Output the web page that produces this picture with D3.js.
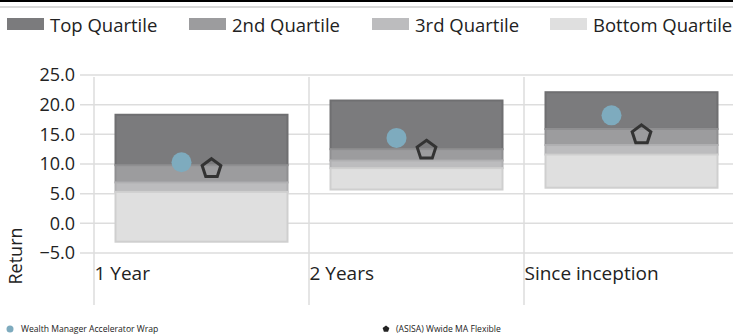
<!DOCTYPE html>
<html>
<head>
<meta charset="utf-8">
<script src="https://cdn.jsdelivr.net/npm/d3@7"></script>
<style>
  body { margin: 0; background: #fff; }
  text { font-family: "Open Sans", "Noto Sans", sans-serif; fill: #222; }
</style>
</head>
<body>
<div id="chart"></div>
<script>
// data
var categories = ["1 Year", "2 Years", "Since inception"];
var topMax    = [18.3, 20.7, 22.1];
var upperQ    = [9.8, 12.5, 15.9];
var medianQ   = [6.9, 10.6, 13.2];
var lowerQ    = [5.3, 9.3, 11.6];
var bottomMin = [-3.1, 5.7, 6.0];
var fundReturn   = [10.3, 14.4, 18.2];
var sectorReturn = [9.4, 12.5, 15.1];
var yTicks = [-5, 0, 5, 10, 15, 20, 25];
var quartileNames = ["Top Quartile", "2nd Quartile", "3rd Quartile", "Bottom Quartile"];
var fundName = "Wealth Manager Accelerator Wrap";
var sectorName = "(ASISA) Wwide MA Flexible";

var svgWidth = 733;
var svgHeight = 334;

var fills   = ["#7b7b7d", "#9c9c9e", "#bcbcbe", "#dfdfdf"];
var strokes = ["#6f6f71", "#8f8f91", "#b0b0b2", "#cfcfcf"];

var svg = d3.select("#chart").append("svg")
    .attr("width", svgWidth)
    .attr("height", svgHeight);

// top rules
svg.append("rect").attr("x", 0).attr("y", 0).attr("width", svgWidth).attr("height", 2).attr("fill", "#000");
svg.append("rect").attr("x", 0).attr("y", 6).attr("width", svgWidth).attr("height", 2).attr("fill", "#d9d9d9");

// legend
var legendX = [7, 189, 372, 550];
var legend = svg.append("g");
quartileNames.forEach(function(name, i) {
    legend.append("rect")
        .attr("x", legendX[i]).attr("y", 18)
        .attr("width", 37).attr("height", 12)
        .attr("fill", fills[i]);
    legend.append("text")
        .attr("x", legendX[i] + 43).attr("y", 31.5)
        .style("font-size", "18.5px")
        .text(name);
});

// scales
var y = d3.scaleLinear().domain([-5, 25]).range([253, 75]);
var x = d3.scaleBand().domain(categories).range([94, 739])
    .paddingInner(0.2).paddingOuter(0.1);
var half = x.step() * x.paddingInner() / 2;

// gridlines
var grid = svg.append("g").attr("stroke", "#dddddd").attr("stroke-width", 1.5);
grid.selectAll(".h").data(yTicks).enter().append("line")
    .attr("x1", 80).attr("x2", svgWidth)
    .attr("y1", d => y(d)).attr("y2", d => y(d));
grid.selectAll(".v").data(categories).enter().append("line")
    .attr("x1", d => x(d) - half).attr("x2", d => x(d) - half)
    .attr("y1", 77).attr("y2", 305);

// y axis labels
var yAxis = d3.axisLeft(y).tickValues(yTicks).tickFormat(d3.format(".1f")).tickSize(0).tickPadding(0);
var yg = svg.append("g").attr("transform", "translate(75,0)").call(yAxis);
yg.select(".domain").remove();
yg.selectAll("text").style("font-size", "18px").attr("fill", "#222").attr("font-family", null);

svg.append("text")
    .attr("transform", "translate(22,256) rotate(-90)")
    .attr("text-anchor", "middle")
    .style("font-size", "18px")
    .text("Return");

// category labels
svg.selectAll(".cat").data(categories).enter().append("text")
    .attr("x", d => x(d) - half + 0.5)
    .attr("y", 280)
    .style("font-size", "19px")
    .text(d => d);

// stacked quartile boxes
var bounds = [topMax, upperQ, medianQ, lowerQ, bottomMin];
for (var q = 0; q < 4; q++) {
    svg.append("g").selectAll("rect").data(categories).enter().append("rect")
        .attr("x", d => x(d))
        .attr("width", x.bandwidth())
        .attr("y", (d, i) => y(bounds[q][i]))
        .attr("height", (d, i) => y(bounds[q + 1][i]) - y(bounds[q][i]))
        .attr("fill", fills[q])
        .attr("stroke", strokes[q])
        .attr("stroke-width", 2);
}

// fund points
svg.append("g").selectAll("circle").data(categories).enter().append("circle")
    .attr("cx", d => x(d) + x.bandwidth() / 2 - 20)
    .attr("cy", (d, i) => y(fundReturn[i]))
    .attr("r", 10)
    .attr("fill", "#7eabbe");

// sector points (pentagons)
var pentagon = d3.symbol().type(d3.symbolPentagon || {
    draw: function(ctx, size) {
        var r = Math.sqrt(size / 2.3776);
        for (var k = 0; k < 5; k++) {
            var a = -Math.PI / 2 + k * 2 * Math.PI / 5;
            if (k === 0) ctx.moveTo(r * Math.cos(a), r * Math.sin(a));
            else ctx.lineTo(r * Math.cos(a), r * Math.sin(a));
        }
        ctx.closePath();
    }
}).size(230);
svg.append("g").selectAll("path").data(categories).enter().append("path")
    .attr("transform", (d, i) => "translate(" + (x(d) + x.bandwidth() / 2 + 10) + "," + (y(sectorReturn[i]) + 1) + ")")
    .attr("d", pentagon)
    .attr("fill", "none")
    .attr("stroke", "#333")
    .attr("stroke-width", 3)
    .attr("stroke-linejoin", "miter");

// bottom legend
svg.append("circle").attr("cx", 10).attr("cy", 329).attr("r", 3.5).attr("fill", "#7eabbe");
svg.append("text").attr("x", 21).attr("y", 332).style("font-size", "8.6px").attr("fill", "#333").text(fundName);
svg.append("path")
    .attr("transform", "translate(386,329)")
    .attr("d", pentagon.size(30)())
    .attr("fill", "#222");
svg.append("text").attr("x", 396).attr("y", 332).style("font-size", "8.6px").attr("fill", "#333").text(sectorName);
</script>
</body>
</html>
